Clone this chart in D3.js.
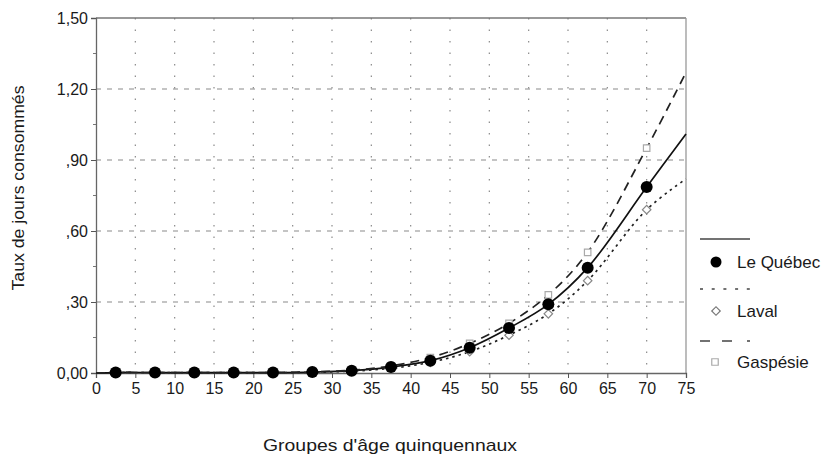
<!DOCTYPE html>
<html lang="fr">
<head>
    <meta charset="UTF-8">
    <title>Taux de jours consommés</title>
    <style>
        body { margin: 0; background: #fff; }
        svg { display: block; }
        text { font-family: "Liberation Sans", Arial, sans-serif; fill: #1a1a1a; }
        .axis-title { font-size: 17px; }
        .legend-label { font-size: 17px; }
    </style>
</head>
<body>
    <svg width="828" height="472"></svg>

    <script src="https://d3js.org/d3.v7.min.js"></script>
    <script>
        // Ages (midpoint of each 5-year group) and rates
        const ages = [2.5, 7.5, 12.5, 17.5, 22.5, 27.5, 32.5, 37.5, 42.5, 47.5, 52.5, 57.5, 62.5, 70];
        const quebec   = [0.002, 0.002, 0.002, 0.002, 0.002, 0.004, 0.010, 0.025, 0.052, 0.107, 0.19, 0.29, 0.445, 0.786];
        const laval    = [0.002, 0.002, 0.002, 0.002, 0.002, 0.003, 0.008, 0.020, 0.045, 0.090, 0.16, 0.25, 0.39, 0.69];
        const gaspesie = [0.002, 0.002, 0.002, 0.002, 0.002, 0.005, 0.012, 0.030, 0.065, 0.125, 0.21, 0.33, 0.51, 0.95];

        // the fitted curves run from 0 to 75
        const curveStartAge = 0;
        const curveEndAge = 75;
        const quebecEnd = 1.01;
        const lavalEnd = 0.82;
        const gaspesieEnd = 1.27;

        const xTicks = d3.range(0, 80, 5);
        const yTicks = [0, 0.30, 0.60, 0.90, 1.20, 1.50];
        const yTickLabels = ["0,00", ",30", ",60", ",90", "1,20", "1,50"];
        const yMinorTicks = [0.15, 0.45, 0.75, 1.05, 1.35];

        const seriesNames = ["Le Québec", "Laval", "Gaspésie"];

        const svg = d3.select("svg");

        const x = d3.scaleLinear().domain([0, 75]).range([96, 686]);
        const y = d3.scaleLinear().domain([0, 1.5]).range([373, 18]);

        // grid
        const grid = svg.append("g");
        grid.selectAll("line.vgrid")
            .data(xTicks.filter(d => d > 0 && d < 75))
            .enter().append("line")
            .attr("x1", d => x(d)).attr("x2", d => x(d))
            .attr("y1", y(1.5)).attr("y2", y(0))
            .attr("stroke", "#8a8a8a")
            .attr("stroke-width", 1.2)
            .attr("stroke-dasharray", "1.5,10");
        grid.selectAll("line.hgrid")
            .data(yTicks.filter(d => d > 0 && d < 1.5))
            .enter().append("line")
            .attr("x1", x(0)).attr("x2", x(75))
            .attr("y1", d => y(d)).attr("y2", d => y(d))
            .attr("stroke", "#8a8a8a")
            .attr("stroke-width", 1.2)
            .attr("stroke-dasharray", "5,6");

        // frame: top and right sides
        svg.append("line")
            .attr("x1", x(0)).attr("x2", x(75))
            .attr("y1", y(1.5)).attr("y2", y(1.5))
            .attr("stroke", "#777").attr("stroke-width", 1.3);
        svg.append("line")
            .attr("x1", x(75)).attr("x2", x(75))
            .attr("y1", y(1.5)).attr("y2", y(0))
            .attr("stroke", "#999").attr("stroke-width", 1.3);

        // axes
        const xAxis = d3.axisBottom(x)
            .tickValues(xTicks)
            .tickSize(5)
            .tickPadding(5)
            .tickFormat(d3.format("d"));
        const gx = svg.append("g")
            .attr("transform", `translate(0,${y(0)})`)
            .call(xAxis);

        const yAxis = d3.axisLeft(y)
            .tickValues(yTicks)
            .tickSize(5)
            .tickPadding(3)
            .tickFormat((d, i) => yTickLabels[i]);
        const gy = svg.append("g")
            .attr("transform", `translate(${x(0)},0)`)
            .call(yAxis);

        [gx, gy].forEach(g => {
            g.select(".domain").attr("stroke", "#666").attr("stroke-width", 1.3);
            g.selectAll(".tick line").attr("stroke", "#555");
            g.selectAll(".tick text")
                .attr("fill", "#1a1a1a")
                .style("font-size", "16px")
                .style("font-family", "'Liberation Sans', Arial, sans-serif");
        });

        gy.selectAll("line.minor")
            .data(yMinorTicks)
            .enter().append("line")
            .attr("x1", -3).attr("x2", 0)
            .attr("y1", d => y(d)).attr("y2", d => y(d))
            .attr("stroke", "#777");

        // axis titles
        svg.append("text")
            .attr("class", "axis-title")
            .attr("transform", "translate(24,188) rotate(-90)")
            .attr("text-anchor", "middle")
            .attr("textLength", 205)
            .attr("lengthAdjust", "spacingAndGlyphs")
            .text("Taux de jours consommés");

        svg.append("text")
            .attr("class", "axis-title")
            .attr("x", 390)
            .attr("y", 451)
            .attr("text-anchor", "middle")
            .attr("textLength", 254)
            .attr("lengthAdjust", "spacingAndGlyphs")
            .text("Groupes d'âge quinquennaux");

        // curves
        const lineGen = d3.line()
            .x(d => x(d[0]))
            .y(d => y(d[1]))
            .curve(d3.curveCatmullRom.alpha(0.5));

        function curvePoints(values, endValue) {
            return [[curveStartAge, 0]].concat(ages.map((a, i) => [a, values[i]]), [[curveEndAge, endValue]]);
        }

        const styles = [
            { values: quebec, end: quebecEnd, dash: null, stroke: "#111", width: 1.7 },
            { values: laval, end: lavalEnd, dash: "2.5,4", stroke: "#222", width: 1.7 },
            { values: gaspesie, end: gaspesieEnd, dash: "9,6", stroke: "#222", width: 1.7 }
        ];

        styles.forEach(s => {
            svg.append("path")
                .datum(curvePoints(s.values, s.end))
                .attr("d", lineGen)
                .attr("fill", "none")
                .attr("stroke", s.stroke)
                .attr("stroke-width", s.width)
                .attr("stroke-dasharray", s.dash);
        });

        // markers
        const square = d3.symbol().type(d3.symbolSquare).size(42);
        const diamond = d3.symbol().type(d3.symbolSquare).size(36);

        svg.append("g").selectAll("path")
            .data(ages.map((a, i) => [a, gaspesie[i]]))
            .enter().append("path")
            .attr("d", square)
            .attr("transform", d => `translate(${x(d[0])},${y(d[1])})`)
            .attr("fill", "#fff")
            .attr("stroke", "#aaa")
            .attr("stroke-width", 1.2);

        svg.append("g").selectAll("path")
            .data(ages.map((a, i) => [a, laval[i]]))
            .enter().append("path")
            .attr("d", diamond)
            .attr("transform", d => `translate(${x(d[0])},${y(d[1])}) rotate(45)`)
            .attr("fill", "#fff")
            .attr("stroke", "#888")
            .attr("stroke-width", 1.2);

        svg.append("g").selectAll("circle")
            .data(ages.map((a, i) => [a, quebec[i]]))
            .enter().append("circle")
            .attr("cx", d => x(d[0]))
            .attr("cy", d => y(d[1]))
            .attr("r", 6)
            .attr("fill", "#000");

        // legend
        const legend = svg.append("g");
        const legendRows = [
            { lineY: 239, markY: 262, dash: null },
            { lineY: 289, markY: 311, dash: "3,8.7" },
            { lineY: 341, markY: 362, dash: "10,12,10,15,3" }
        ];

        legendRows.forEach((r, i) => {
            legend.append("line")
                .attr("x1", 700).attr("x2", 750)
                .attr("y1", r.lineY).attr("y2", r.lineY)
                .attr("stroke", "#444")
                .attr("stroke-width", 1.6)
                .attr("stroke-dasharray", r.dash);

            if (i === 0) {
                legend.append("circle")
                    .attr("cx", 716).attr("cy", r.markY).attr("r", 5.5)
                    .attr("fill", "#000");
            } else if (i === 1) {
                legend.append("path")
                    .attr("d", diamond)
                    .attr("transform", `translate(716,${r.markY}) rotate(45)`)
                    .attr("fill", "#fff").attr("stroke", "#777").attr("stroke-width", 1.2);
            } else {
                legend.append("path")
                    .attr("d", square)
                    .attr("transform", `translate(715,${r.markY})`)
                    .attr("fill", "#fff").attr("stroke", "#aaa").attr("stroke-width", 1.2);
            }

            legend.append("text")
                .attr("class", "legend-label")
                .attr("x", 737)
                .attr("y", r.markY + 6)
                .text(seriesNames[i]);
        });
    </script>
</body>
</html>
